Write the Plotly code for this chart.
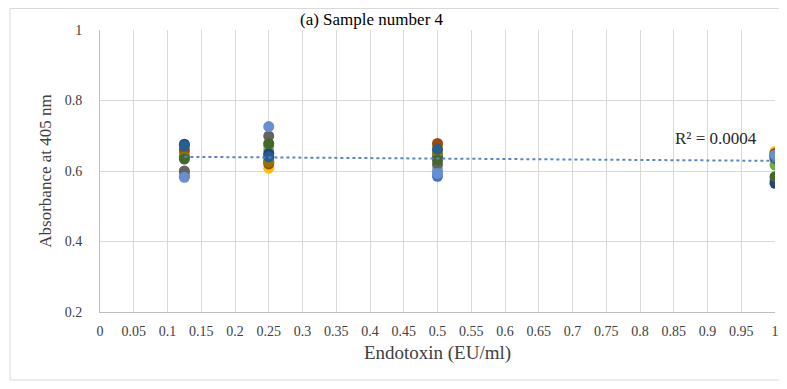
import numpy as np
import plotly.graph_objects as go

# Endotoxin concentrations (EU/ml)
endotoxin = [0.125, 0.25, 0.5, 1.0]

# Absorbance readings at 405 nm, one list per replicate
rep1 = [0.585, 0.641, 0.585, 0.572]
rep2 = [0.652, 0.626, 0.672, 0.652]
rep3 = [0.597, 0.660, 0.612, 0.645]
rep4 = [0.638, 0.608, 0.668, 0.655]
rep5 = [0.590, 0.630, 0.600, 0.641]
rep6 = [0.642, 0.672, 0.655, 0.617]
rep7 = [0.676, 0.650, 0.640, 0.565]
rep8 = [0.660, 0.620, 0.678, 0.650]
rep9 = [0.600, 0.699, 0.620, 0.635]
rep10 = [0.640, 0.625, 0.650, 0.645]
rep11 = [0.672, 0.640, 0.662, 0.640]
rep12 = [0.634, 0.678, 0.631, 0.584]
rep13 = [0.582, 0.726, 0.593, 0.645]

replicates = [rep1, rep2, rep3, rep4, rep5, rep6, rep7, rep8, rep9, rep10, rep11, rep12, rep13]
colors = ["#4472C4", "#ED7D31", "#A5A5A5", "#FFC000", "#5B9BD5", "#70AD47",
          "#264478", "#9E480E", "#636363", "#997300", "#255E91", "#43682B", "#698ED0"]

r2_label = "R² = 0.0004"
title_text = "(a) Sample number 4"

FONT = "Liberation Serif"

fig = go.Figure()

for vals, col in zip(replicates, colors):
    fig.add_trace(go.Scatter(
        x=endotoxin, y=vals, mode="markers",
        marker=dict(color=col, size=11, line=dict(width=0)),
        showlegend=False, hoverinfo="x+y"))

# Linear trendline over all points
all_x = np.array(endotoxin * len(replicates))
all_y = np.concatenate([np.array(v) for v in replicates])
slope, intercept = np.polyfit(all_x, all_y, 1)
tx = np.array([min(endotoxin), max(endotoxin)])
fig.add_trace(go.Scatter(
    x=tx, y=slope * tx + intercept, mode="lines",
    line=dict(color="#5B84CC", width=2, dash="dot"),
    showlegend=False, hoverinfo="skip"))

# page body has an 8px margin, so figure coords = reference coords - 8
OFF = 8
W, H = 787, 389
L = 100 - OFF
T = 30 - OFF
R = W - (775 - OFF)
B = H - (312 - OFF)
pw = W - L - R
ph = H - T - B

def px_x(p):
    return (p - OFF - L) / pw

def px_y(p):
    return (H - B - (p - OFF)) / ph

fig.add_shape(type="rect", xref="paper", yref="paper",
              x0=px_x(10), x1=px_x(785), y0=px_y(380), y1=px_y(8.5),
              line=dict(color="#D9D9D9", width=1), fillcolor="rgba(0,0,0,0)",
              layer="below")

fig.add_annotation(text=title_text, xref="paper", yref="paper",
                   x=px_x(372), y=px_y(8), xanchor="center", yanchor="top",
                   showarrow=False, font=dict(family=FONT, size=17, color="#000000"))

fig.add_annotation(text=r2_label, xref="x", yref="y",
                   x=0.912, y=0.693, xanchor="center", yanchor="middle",
                   showarrow=False, font=dict(family=FONT, size=17, color="#262626"))

fig.update_layout(
    width=W, height=H,
    margin=dict(l=L, r=R, t=T, b=B),
    paper_bgcolor="white", plot_bgcolor="white",
    font=dict(family=FONT, size=14, color="#595959"),
    xaxis=dict(range=[0, 1], dtick=0.05, tick0=0, showgrid=True, gridcolor="#D9D9D9",
               gridwidth=1, zeroline=False, showline=True, linecolor="#BFBFBF",
               ticks="", ticklabelstandoff=6,
               tickfont=dict(family=FONT, size=14, color="#404040"),
               title=dict(text="Endotoxin (EU/ml)", standoff=7,
                          font=dict(family=FONT, size=19, color="#404040"))),
    yaxis=dict(range=[0.2, 1], dtick=0.2, tick0=0.2, showgrid=True, gridcolor="#D9D9D9",
               gridwidth=1, zeroline=False, showline=True, linecolor="#BFBFBF",
               ticks="", ticklabelstandoff=14,
               tickfont=dict(family=FONT, size=14, color="#404040"),
               title=dict(text="Absorbance at 405 nm", standoff=8,
                          font=dict(family=FONT, size=17, color="#404040"))),
)

fig.write_html("out.html")
